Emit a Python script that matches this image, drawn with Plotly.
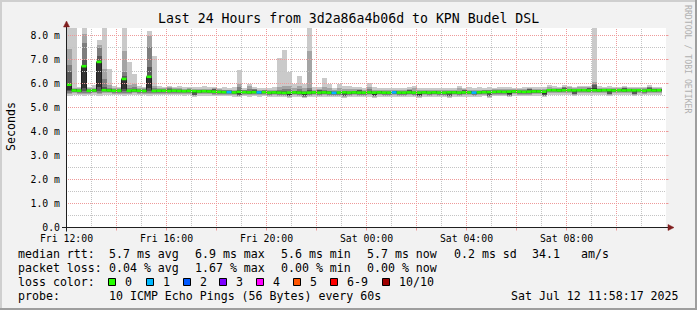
import plotly.graph_objects as go

# ---------------- data ----------------
TITLE = "Last 24 Hours from 3d2a86a4b06d to KPN Budel DSL"
Y_LABEL = "Seconds"
WATERMARK = "RRDTOOL / TOBI OETIKER"
X_TICK_HOURS = [0, 4, 8, 12, 16, 20]
X_TICK_LABELS = ["Fri 12:00", "Fri 16:00", "Fri 20:00", "Sat 00:00", "Sat 04:00", "Sat 08:00"]
Y_TICK_VALUES = [0, 1, 2, 3, 4, 5, 6, 7, 8]
Y_TICK_LABELS = ["0.0", "1.0 m", "2.0 m", "3.0 m", "4.0 m", "5.0 m", "6.0 m", "7.0 m", "8.0 m"]
BIN_MINUTES = 12

median_ms = [5.95, 5.71, 5.70, 6.72, 5.70, 5.71, 6.90, 5.72, 5.71, 5.70,
             5.70, 6.19, 5.70, 5.71, 5.70, 5.69, 6.28, 5.69, 5.70, 5.70,
             5.69, 5.70, 5.69, 5.68, 5.69, 5.68, 5.67, 5.68, 5.67, 5.66,
             5.65, 5.64, 5.64, 5.63, 5.65, 5.64, 5.63, 5.64, 5.63, 5.64,
             5.62, 5.63, 5.62, 5.61, 5.62, 5.63, 5.62, 5.61, 5.62, 5.63,
             5.62, 5.63, 5.62, 5.61, 5.62, 5.63, 5.62, 5.63, 5.62, 5.62,
             5.63, 5.62, 5.63, 5.62, 5.62, 5.63, 5.62, 5.62, 5.63, 5.62,
             5.62, 5.63, 5.62, 5.63, 5.62, 5.62, 5.63, 5.63, 5.62, 5.63,
             5.63, 5.62, 5.63, 5.64, 5.64, 5.65, 5.66, 5.65, 5.66, 5.67,
             5.66, 5.65, 5.66, 5.67, 5.67, 5.66, 5.72, 5.72, 5.71, 5.72,
             5.72, 5.71, 5.72, 5.72, 5.71, 5.72, 5.71, 5.72, 5.72, 5.71,
             5.72, 5.71, 5.72, 5.71, 5.72, 5.70, 5.72, 5.71, 5.72]

ping1 = [5.50, 5.53, 5.52, 5.50, 5.52, 5.53, 5.50, 5.54, 5.53, 5.52,
         5.52, 5.50, 5.52, 5.53, 5.52, 5.51, 5.50, 5.51, 5.52, 5.52,
         5.51, 5.52, 5.51, 5.50, 5.51, 5.45, 5.49, 5.50, 5.49, 5.48,
         5.47, 5.46, 5.46, 5.45, 5.42, 5.46, 5.45, 5.46, 5.45, 5.46,
         5.44, 5.45, 5.44, 5.43, 5.39, 5.45, 5.44, 5.38, 5.44, 5.45,
         5.44, 5.45, 5.44, 5.43, 5.44, 5.40, 5.44, 5.45, 5.44, 5.44,
         5.45, 5.39, 5.45, 5.44, 5.44, 5.45, 5.44, 5.44, 5.45, 5.44,
         5.39, 5.45, 5.44, 5.45, 5.44, 5.44, 5.40, 5.45, 5.44, 5.45,
         5.45, 5.44, 5.45, 5.46, 5.41, 5.47, 5.48, 5.47, 5.43, 5.49,
         5.48, 5.47, 5.48, 5.49, 5.49, 5.43, 5.54, 5.54, 5.53, 5.54,
         5.54, 5.48, 5.54, 5.54, 5.53, 5.54, 5.53, 5.54, 5.49, 5.53,
         5.54, 5.53, 5.54, 5.48, 5.54, 5.52, 5.54, 5.53, 5.54]
ping2 = [5.56, 5.59, 5.58, 5.56, 5.58, 5.59, 5.56, 5.60, 5.59, 5.58,
         5.58, 5.56, 5.58, 5.59, 5.58, 5.57, 5.56, 5.57, 5.58, 5.58,
         5.57, 5.58, 5.57, 5.56, 5.57, 5.49, 5.55, 5.56, 5.55, 5.54,
         5.53, 5.52, 5.52, 5.51, 5.46, 5.52, 5.51, 5.52, 5.51, 5.52,
         5.50, 5.51, 5.50, 5.49, 5.43, 5.51, 5.50, 5.42, 5.50, 5.51,
         5.50, 5.51, 5.50, 5.49, 5.50, 5.44, 5.50, 5.51, 5.50, 5.50,
         5.51, 5.43, 5.51, 5.50, 5.50, 5.51, 5.50, 5.50, 5.51, 5.50,
         5.43, 5.51, 5.50, 5.51, 5.50, 5.50, 5.44, 5.51, 5.50, 5.51,
         5.51, 5.50, 5.51, 5.52, 5.45, 5.53, 5.54, 5.53, 5.47, 5.55,
         5.54, 5.53, 5.54, 5.55, 5.55, 5.47, 5.60, 5.60, 5.59, 5.60,
         5.60, 5.52, 5.60, 5.60, 5.59, 5.60, 5.59, 5.60, 5.53, 5.59,
         5.60, 5.59, 5.60, 5.52, 5.60, 5.58, 5.60, 5.59, 5.60]
ping3 = [5.62, 5.63, 5.62, 5.62, 5.62, 5.63, 5.62, 5.64, 5.63, 5.62,
         5.62, 5.62, 5.62, 5.63, 5.62, 5.61, 5.62, 5.61, 5.62, 5.62,
         5.61, 5.62, 5.61, 5.60, 5.61, 5.52, 5.59, 5.60, 5.59, 5.58,
         5.57, 5.56, 5.56, 5.55, 5.49, 5.56, 5.55, 5.56, 5.55, 5.56,
         5.54, 5.55, 5.54, 5.53, 5.46, 5.55, 5.54, 5.45, 5.54, 5.55,
         5.54, 5.55, 5.54, 5.53, 5.54, 5.47, 5.54, 5.55, 5.54, 5.54,
         5.55, 5.46, 5.55, 5.54, 5.54, 5.55, 5.54, 5.54, 5.55, 5.54,
         5.46, 5.55, 5.54, 5.55, 5.54, 5.54, 5.47, 5.55, 5.54, 5.55,
         5.55, 5.54, 5.55, 5.56, 5.48, 5.57, 5.58, 5.57, 5.50, 5.59,
         5.58, 5.57, 5.58, 5.59, 5.59, 5.50, 5.64, 5.64, 5.63, 5.64,
         5.64, 5.55, 5.64, 5.64, 5.63, 5.64, 5.63, 5.64, 5.56, 5.63,
         5.64, 5.63, 5.64, 5.55, 5.64, 5.62, 5.64, 5.63, 5.64]
ping4 = [5.68, 5.66, 5.65, 5.70, 5.65, 5.66, 5.70, 5.67, 5.66, 5.65,
         5.65, 5.68, 5.65, 5.66, 5.65, 5.64, 5.70, 5.64, 5.65, 5.65,
         5.64, 5.65, 5.64, 5.63, 5.64, 5.54, 5.62, 5.63, 5.62, 5.61,
         5.60, 5.59, 5.59, 5.58, 5.51, 5.59, 5.58, 5.59, 5.58, 5.59,
         5.57, 5.58, 5.57, 5.56, 5.48, 5.58, 5.57, 5.47, 5.57, 5.58,
         5.57, 5.58, 5.57, 5.56, 5.57, 5.49, 5.57, 5.58, 5.57, 5.57,
         5.58, 5.48, 5.58, 5.57, 5.57, 5.58, 5.57, 5.57, 5.58, 5.57,
         5.48, 5.58, 5.57, 5.58, 5.57, 5.57, 5.49, 5.58, 5.57, 5.58,
         5.58, 5.57, 5.58, 5.59, 5.50, 5.60, 5.61, 5.60, 5.52, 5.62,
         5.61, 5.60, 5.61, 5.62, 5.62, 5.52, 5.67, 5.67, 5.66, 5.67,
         5.67, 5.57, 5.67, 5.67, 5.66, 5.67, 5.66, 5.67, 5.58, 5.66,
         5.67, 5.66, 5.67, 5.57, 5.67, 5.65, 5.67, 5.66, 5.67]
ping5 = [5.75, 5.69, 5.68, 5.82, 5.68, 5.69, 5.85, 5.70, 5.69, 5.68,
         5.68, 5.78, 5.68, 5.69, 5.68, 5.67, 5.80, 5.67, 5.68, 5.68,
         5.67, 5.68, 5.67, 5.66, 5.67, 5.62, 5.65, 5.66, 5.65, 5.64,
         5.63, 5.62, 5.62, 5.61, 5.59, 5.62, 5.61, 5.62, 5.61, 5.62,
         5.60, 5.61, 5.60, 5.59, 5.56, 5.61, 5.60, 5.55, 5.60, 5.61,
         5.60, 5.61, 5.60, 5.59, 5.60, 5.57, 5.60, 5.61, 5.60, 5.60,
         5.61, 5.56, 5.61, 5.60, 5.60, 5.61, 5.60, 5.60, 5.61, 5.60,
         5.56, 5.61, 5.60, 5.61, 5.60, 5.60, 5.57, 5.61, 5.60, 5.61,
         5.61, 5.60, 5.61, 5.62, 5.58, 5.63, 5.64, 5.63, 5.60, 5.65,
         5.64, 5.63, 5.64, 5.65, 5.65, 5.60, 5.70, 5.70, 5.69, 5.70,
         5.70, 5.65, 5.70, 5.70, 5.69, 5.70, 5.69, 5.70, 5.66, 5.69,
         5.70, 5.69, 5.70, 5.65, 5.70, 5.68, 5.70, 5.69, 5.70]
ping6 = [5.97, 5.73, 5.72, 6.72, 5.72, 5.73, 6.90, 5.74, 5.73, 5.72,
         5.72, 6.20, 5.72, 5.73, 5.72, 5.71, 6.30, 5.71, 5.72, 5.72,
         5.71, 5.72, 5.71, 5.70, 5.71, 5.70, 5.69, 5.70, 5.69, 5.68,
         5.67, 5.66, 5.66, 5.65, 5.67, 5.66, 5.65, 5.66, 5.65, 5.66,
         5.64, 5.65, 5.64, 5.63, 5.64, 5.65, 5.64, 5.63, 5.64, 5.65,
         5.64, 5.65, 5.64, 5.63, 5.64, 5.65, 5.64, 5.65, 5.64, 5.64,
         5.65, 5.64, 5.65, 5.64, 5.64, 5.65, 5.64, 5.64, 5.65, 5.64,
         5.64, 5.65, 5.64, 5.65, 5.64, 5.64, 5.65, 5.65, 5.64, 5.65,
         5.65, 5.64, 5.65, 5.66, 5.66, 5.67, 5.68, 5.67, 5.68, 5.69,
         5.68, 5.67, 5.68, 5.69, 5.69, 5.68, 5.74, 5.74, 5.73, 5.74,
         5.74, 5.73, 5.74, 5.74, 5.73, 5.80, 5.73, 5.74, 5.74, 5.73,
         5.74, 5.73, 5.74, 5.73, 5.74, 5.72, 5.74, 5.73, 5.74]
ping7 = [6.46, 5.75, 5.74, 7.00, 5.74, 5.75, 7.15, 5.85, 5.76, 5.74,
         5.74, 6.30, 5.74, 5.76, 5.74, 5.73, 6.70, 5.73, 5.74, 5.74,
         5.79, 5.74, 5.73, 5.72, 5.73, 5.72, 5.71, 5.72, 5.71, 5.76,
         5.69, 5.68, 5.68, 5.67, 5.72, 5.68, 5.70, 5.74, 5.67, 5.68,
         5.66, 5.67, 5.68, 5.69, 5.66, 5.68, 5.70, 5.65, 5.72, 5.67,
         5.72, 5.69, 5.68, 5.65, 5.66, 5.67, 5.66, 5.67, 5.72, 5.66,
         5.70, 5.66, 5.67, 5.66, 5.66, 5.67, 5.66, 5.66, 5.73, 5.66,
         5.66, 5.67, 5.66, 5.67, 5.66, 5.66, 5.67, 5.67, 5.66, 5.73,
         5.67, 5.66, 5.67, 5.68, 5.68, 5.69, 5.70, 5.69, 5.70, 5.71,
         5.70, 5.69, 5.76, 5.71, 5.71, 5.70, 5.76, 5.76, 5.75, 5.82,
         5.76, 5.75, 5.76, 5.76, 5.81, 5.95, 5.75, 5.76, 5.76, 5.75,
         5.76, 5.81, 5.76, 5.75, 5.76, 5.74, 5.82, 5.75, 5.76]
ping8 = [6.76, 5.78, 5.77, 7.70, 5.77, 5.78, 7.48, 6.18, 5.80, 5.77,
         5.77, 6.46, 5.80, 5.85, 5.77, 5.76, 7.53, 5.80, 5.77, 5.77,
         5.81, 5.77, 5.76, 5.75, 5.76, 5.75, 5.74, 5.75, 5.74, 5.78,
         5.72, 5.71, 5.71, 5.70, 5.85, 5.71, 5.78, 5.76, 5.70, 5.71,
         5.69, 5.70, 5.75, 5.78, 5.76, 5.70, 5.78, 5.68, 5.80, 5.70,
         5.74, 5.75, 5.69, 5.68, 5.69, 5.70, 5.69, 5.70, 5.74, 5.69,
         5.76, 5.69, 5.70, 5.69, 5.69, 5.70, 5.69, 5.69, 5.75, 5.69,
         5.69, 5.70, 5.69, 5.70, 5.69, 5.69, 5.70, 5.70, 5.69, 5.75,
         5.70, 5.69, 5.70, 5.71, 5.71, 5.72, 5.73, 5.72, 5.73, 5.74,
         5.73, 5.72, 5.78, 5.74, 5.74, 5.73, 5.79, 5.79, 5.78, 5.84,
         5.79, 5.78, 5.79, 5.79, 5.83, 6.00, 5.78, 5.79, 5.79, 5.78,
         5.79, 5.83, 5.79, 5.78, 5.79, 5.77, 5.84, 5.78, 5.79]
ping9 = [7.45, 5.82, 5.81, 8.05, 5.81, 5.82, 7.62, 6.60, 5.95, 5.81,
         5.81, 7.35, 5.95, 6.00, 5.81, 5.80, 7.98, 5.90, 5.81, 5.81,
         5.84, 5.81, 5.80, 5.79, 5.80, 5.79, 5.78, 5.79, 5.78, 5.81,
         5.76, 5.75, 5.75, 5.74, 6.00, 5.75, 5.88, 5.79, 5.74, 5.75,
         5.73, 5.74, 5.85, 5.90, 5.88, 5.80, 5.90, 5.82, 7.35, 5.74,
         5.77, 5.85, 5.80, 5.72, 5.82, 5.78, 5.76, 5.76, 5.77, 5.73,
         5.85, 5.73, 5.74, 5.73, 5.73, 5.74, 5.73, 5.73, 5.78, 5.80,
         5.73, 5.74, 5.73, 5.74, 5.73, 5.73, 5.74, 5.74, 5.80, 5.78,
         5.74, 5.73, 5.74, 5.75, 5.75, 5.76, 5.77, 5.76, 5.77, 5.78,
         5.77, 5.76, 5.81, 5.78, 5.78, 5.77, 5.84, 5.83, 5.82, 5.87,
         5.84, 5.82, 5.84, 5.84, 5.86, 6.05, 5.82, 5.83, 5.83, 5.82,
         5.83, 5.86, 5.83, 5.82, 5.83, 5.81, 5.87, 5.82, 5.83]
ping10 = [8.40, 8.40, 5.86, 8.40, 5.85, 5.92, 7.80, 8.40, 6.60, 5.90,
          5.86, 8.40, 6.88, 6.40, 5.88, 5.86, 8.20, 7.15, 5.88, 5.85,
          5.89, 5.86, 5.90, 5.85, 5.87, 5.86, 5.84, 5.88, 5.85, 5.86,
          5.82, 5.84, 5.83, 5.86, 6.58, 5.83, 5.98, 5.84, 5.81, 5.82,
          5.80, 5.86, 7.06, 7.39, 6.46, 5.98, 6.32, 6.00, 8.40, 5.84,
          5.86, 6.21, 6.00, 5.80, 5.98, 5.88, 5.90, 5.86, 5.86, 5.82,
          6.02, 5.84, 5.82, 5.80, 5.80, 5.82, 5.80, 5.82, 5.85, 5.91,
          5.80, 5.82, 5.80, 5.82, 5.80, 5.81, 5.82, 5.80, 5.91, 5.83,
          5.85, 5.80, 5.84, 5.82, 5.85, 5.82, 5.84, 5.86, 5.84, 5.83,
          5.82, 5.84, 5.86, 5.86, 5.85, 5.84, 5.94, 5.90, 5.86, 5.92,
          5.91, 5.86, 5.90, 5.90, 5.91, 8.40, 5.88, 5.86, 5.88, 5.87,
          5.86, 5.91, 5.86, 5.87, 5.86, 5.87, 5.92, 5.86, 5.84]

loss_count = [0, 0, 0, 0, 0, 0, 0, 0, 0, 0,
              0, 0, 0, 0, 0, 0, 0, 0, 0, 0,
              0, 0, 0, 0, 0, 0, 0, 0, 0, 0,
              0, 0, 1, 0, 0, 0, 0, 0, 1, 0,
              0, 0, 0, 0, 0, 0, 0, 0, 0, 0,
              0, 0, 0, 1, 0, 0, 0, 0, 0, 0,
              0, 0, 0, 0, 0, 1, 0, 0, 0, 0,
              0, 0, 0, 0, 0, 0, 0, 0, 0, 0,
              0, 1, 0, 0, 0, 0, 0, 0, 0, 0,
              0, 0, 0, 0, 0, 0, 0, 0, 0, 0,
              0, 0, 0, 0, 0, 0, 0, 0, 0, 0,
              0, 0, 0, 0, 0, 0, 0, 0, 0]

LOSS_LABELS = ["0", "1", "2", "3", "4", "5", "6-9", "10/10"]
LOSS_COLORS = ["#26ff00", "#00b8ff", "#0059ff", "#7e00ff", "#ff00ff", "#ff5500", "#ff0000", "#a00000"]
SMOKE_COLORS = ["#cacaca", "#a4a4a4", "#7e7e7e", "#585858", "#323232"]

RTT_LABEL = "median rtt:"
RTT_STATS = ["5.7 ms avg", "6.9 ms max", "5.6 ms min", "5.7 ms now", "0.2 ms sd", "34.1", "am/s"]
LOSS_LABEL = "packet loss:"
LOSS_STATS = ["0.04 % avg", "1.67 % max", "0.00 % min", "0.00 % now"]
COLOR_LABEL = "loss color:"
PROBE_LABEL = "probe:"
PROBE_TEXT = "10 ICMP Echo Pings (56 Bytes) every 60s"
TIMESTAMP = "Sat Jul 12 11:58:17 2025"

# ---------------- layout geometry (pixels) ----------------
W, H = 697, 310
L, T, PW, PH = 66, 28, 600, 200
XMIN = -0.02
XMAX = XMIN + 24
YS = 24.0
YMIN = -0.5 / YS
YMAX = YMIN + PH / YS
FONT = "DejaVu Sans Mono"
BG = "#f2f2f2"
MGRID = "#ee9a9a"
GRID = "#c4c4c4"
ARROW = "#801f1f"
AXIS = "#1f1f1f"


def px(x):
    return (x - L) / PW


def py(y):
    return (T + PH - y) / PH


def loss_index(c):
    if c <= 5:
        return c
    if c < 10:
        return 6
    return 7


n = len(median_ms)
bw = BIN_MINUTES / 60.0
edges = [k * bw for k in range(n + 1)]
centers = [(edges[k] + edges[k + 1]) / 2 for k in range(n)]
pings = [ping1, ping2, ping3, ping4, ping5, ping6, ping7, ping8, ping9, ping10]

fig = go.Figure()
# smoke: nested percentile bands, lightest outside
for i in range(5):
    lo = pings[i]
    hi = pings[9 - i]
    fig.add_trace(go.Bar(
        x=centers, base=lo, y=[h - l for h, l in zip(hi, lo)], width=bw,
        marker=dict(color=SMOKE_COLORS[i], line=dict(width=0)),
        hoverinfo="skip", showlegend=False))

# dark median step line
fig.add_trace(go.Scatter(
    x=edges, y=median_ms + [median_ms[-1]], mode="lines",
    line=dict(color="#202020", width=1, shape="hv"),
    hoverinfo="skip", showlegend=False))

# median coloured by packet loss
for ci, col in enumerate(LOSS_COLORS):
    xs, ys = [], []
    for k in range(n):
        if loss_index(loss_count[k]) == ci:
            xs += [edges[k], edges[k + 1], None]
            ys += [median_ms[k], median_ms[k], None]
    if xs:
        fig.add_trace(go.Scatter(
            x=xs, y=ys, mode="lines", line=dict(color=col, width=2.6),
            hoverinfo="skip", showlegend=False))

shapes = []
# grid drawn above data (as rrdtool does)
for hr in range(1, 24):
    col = MGRID if hr % 2 == 0 else GRID
    shapes.append(dict(type="line", xref="x", yref="paper", x0=hr, x1=hr, y0=0, y1=1,
                       line=dict(color=col, width=1, dash="1px,1px"), layer="above"))
    if hr % 2 == 0:
        shapes.append(dict(type="line", xref="x", yref="paper", x0=hr, x1=hr, y0=py(228), y1=py(230.5),
                           line=dict(color=MGRID, width=1), layer="above"))
for j in range(1, 17):
    v = j * 0.5
    col = MGRID if j % 2 == 0 else GRID
    shapes.append(dict(type="line", xref="paper", yref="y", x0=0, x1=1, y0=v, y1=v,
                       line=dict(color=col, width=1, dash="1px,1px"), layer="above"))
    if j % 2 == 0:
        shapes.append(dict(type="line", xref="paper", yref="y", x0=1, x1=px(668.5), y0=v, y1=v,
                           line=dict(color=MGRID, width=1), layer="above"))

# axes with arrows
shapes.append(dict(type="line", xref="paper", yref="y", x0=px(62), x1=px(669), y0=0, y1=0,
                   line=dict(color=AXIS, width=1), layer="above"))
shapes.append(dict(type="line", xref="x", yref="paper", x0=0, x1=0, y0=py(231.5), y1=py(24),
                   line=dict(color=AXIS, width=1), layer="above"))
shapes.append(dict(type="path", xref="paper", yref="paper",
                   path="M {} {} L {} {} L {} {} Z".format(px(668), py(224.5), px(674), py(227.5), px(668), py(230.5)),
                   fillcolor=ARROW, line=dict(color=ARROW, width=0.5), layer="above"))
shapes.append(dict(type="path", xref="paper", yref="paper",
                   path="M {} {} L {} {} L {} {} Z".format(px(63.5), py(27), px(66.5), py(21), px(69.5), py(27)),
                   fillcolor=ARROW, line=dict(color=ARROW, width=0.5), layer="above"))

# 3D border of the canvas
shapes.append(dict(type="rect", xref="paper", yref="paper", x0=px(0), x1=px(697), y0=py(0), y1=py(2),
                   fillcolor="#cfcfcf", line=dict(width=0), layer="above"))
shapes.append(dict(type="rect", xref="paper", yref="paper", x0=px(0), x1=px(2), y0=py(0), y1=py(310),
                   fillcolor="#cfcfcf", line=dict(width=0), layer="above"))
shapes.append(dict(type="rect", xref="paper", yref="paper", x0=px(0), x1=px(697), y0=py(308), y1=py(310),
                   fillcolor="#9e9e9e", line=dict(width=0), layer="above"))
shapes.append(dict(type="rect", xref="paper", yref="paper", x0=px(695), x1=px(697), y0=py(0), y1=py(310),
                   fillcolor="#9e9e9e", line=dict(width=0), layer="above"))

annotations = []


def text(s, x, y, size=11.6, anchor="left", color="#000000", angle=0):
    annotations.append(dict(text=s, xref="paper", yref="paper", x=px(x), y=py(y),
                            xanchor=anchor, yanchor="middle", showarrow=False, textangle=angle,
                            font=dict(family=FONT, size=size, color=color)))


text(TITLE, 348, 18.5, size=13.2, anchor="center")
text(Y_LABEL, 11, 127, size=11.6, anchor="center", angle=-90)
text(WATERMARK, 688, 59, size=8.2, anchor="center", color="#b0b0b0", angle=90)

ROW_Y = [254.3, 268.3, 282.3, 295.9]
COL_X = [107.3, 192.7, 279.3, 365, 451.7, 530, 579.3]
text(RTT_LABEL, 16, ROW_Y[0])
for s, x in zip(RTT_STATS, COL_X):
    text(s, x, ROW_Y[0])
text(LOSS_LABEL, 16, ROW_Y[1])
for s, x in zip(LOSS_STATS, COL_X):
    text(s, x, ROW_Y[1])
text(COLOR_LABEL, 16, ROW_Y[2])
SQ_X = [108, 146, 182.7, 219.3, 256, 293.3, 330, 381.7]
for lab, col, x in zip(LOSS_LABELS, LOSS_COLORS, SQ_X):
    x0 = round(x) + 0.5
    shapes.append(dict(type="rect", xref="paper", yref="paper", x0=px(x0), x1=px(x0 + 7),
                       y0=py(278.5), y1=py(285.5), fillcolor=col,
                       line=dict(color="#000000", width=1), layer="above"))
    text(lab, x + 15, ROW_Y[2])
text(PROBE_LABEL, 16, ROW_Y[3])
text(PROBE_TEXT, 107.3, ROW_Y[3])
text(TIMESTAMP, 680.5, ROW_Y[3], anchor="right")

fig.update_layout(
    width=W, height=H,
    margin=dict(l=L, r=W - L - PW, t=T, b=H - T - PH, pad=0),
    paper_bgcolor=BG, plot_bgcolor="#ffffff",
    barmode="overlay", bargap=0,
    showlegend=False,
    shapes=shapes, annotations=annotations,
    xaxis=dict(range=[XMIN, XMAX], showgrid=False, zeroline=False, showline=False,
               tickvals=X_TICK_HOURS, ticktext=X_TICK_LABELS, ticks="",
               ticklabelstandoff=3,
               tickfont=dict(family=FONT, size=9.8, color="#000000"), fixedrange=True),
    yaxis=dict(range=[YMIN, YMAX], showgrid=False, zeroline=False, showline=False,
               tickvals=Y_TICK_VALUES, ticktext=Y_TICK_LABELS, ticks="",
               ticklabelstandoff=5,
               tickfont=dict(family=FONT, size=9.8, color="#000000"), fixedrange=True),
)

fig.write_html("out.html", config={"displayModeBar": False})
